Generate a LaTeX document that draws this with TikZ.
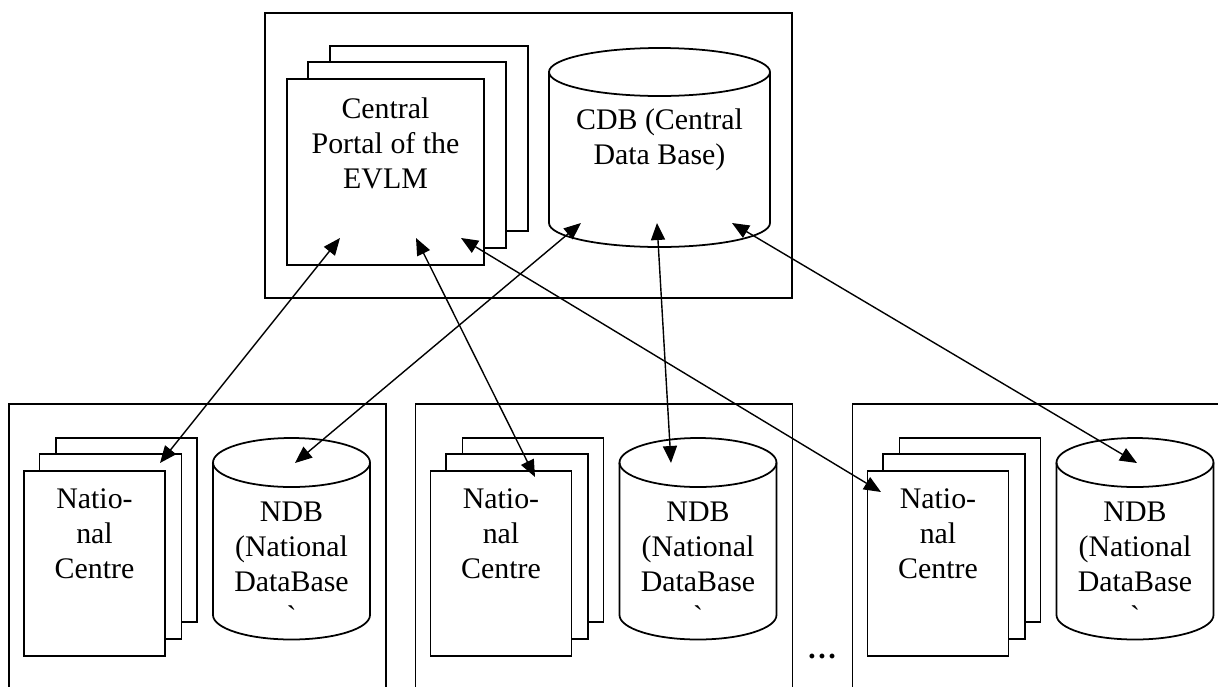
\documentclass[tikz,border=0pt]{standalone}
\usepackage{fontspec}
\setmainfont{Liberation Serif}
\newfontfamily\plainserif{Liberation Serif}
\usetikzlibrary{arrows.meta}

\begin{document}
\begin{tikzpicture}[scale=0.2,
  frame/.style={draw, line width=1pt},
  page/.style={draw, fill=white, line width=1pt, inner sep=0pt},
  dbline/.style={draw, fill=white, line width=1pt},
  txt/.style={align=center, anchor=base, inner sep=0pt, font=\fontsize{17}{19.9}\selectfont},
  link/.style={{Triangle[length=3.4mm,width=2.8mm]}-{Triangle[length=3.4mm,width=2.8mm]}, line width=0.8pt}]
\clip (0,0) rectangle (121.8,-68.6);

% central site
\draw [frame] (26.5,-1.3) rectangle (79.2,-29.8);
\node [page, minimum width=3.96cm, minimum height=3.7cm] (portalb) at (42.9,-13.85) {};
\node [page, minimum width=3.96cm, minimum height=3.72cm] (portalm) at (40.7,-15.5) {};
\node [page, minimum width=3.94cm, minimum height=3.72cm] (portal) at (38.55,-17.2) {};
\node [txt] (portaltxt) at (38.55,-18.8) {Central\\Portal of the\\EVLM};
\path [dbline] (54.9,-7.2) -- (54.9,-22.3) arc [start angle=180, end angle=360, x radius=11.05, y radius=2.4]
  -- (77.0,-7.2) arc [start angle=0, end angle=180, x radius=11.05, y radius=2.4] -- cycle;
\draw [line width=1pt] (54.9,-7.2) arc [start angle=180, end angle=360, x radius=11.05, y radius=2.4];
\node [txt] (cdbtxt) at (65.95,-16.4) {CDB (Central\\Data Base)};

% national sites
\foreach \n/\dx in {A/0,B/40.65,C/84.35} {
  \draw [frame] ({0.9+\dx},-72) rectangle ({38.6+\dx},-40.4);
  \node [page, minimum width=2.82cm, minimum height=3.68cm] (back\n) at ({12.65+\dx},-53.0) {};
  \node [page, minimum width=2.84cm, minimum height=3.7cm] (mid\n) at ({11.05+\dx},-54.65) {};
  \node [page, minimum width=2.82cm, minimum height=3.7cm] (nat\n) at ({9.45+\dx},-56.35) {};
  \node [txt] (nat\n txt) at ({9.45+\dx},-57.8) {Natio-\\nal\\Centre};
  \path [dbline] ({21.3+\dx},-46.25) -- ({21.3+\dx},-61.5) arc [start angle=180, end angle=360, x radius=7.85, y radius=2.45]
    -- ({37.0+\dx},-46.25) arc [start angle=0, end angle=180, x radius=7.85, y radius=2.45] -- cycle;
  \draw [line width=1pt] ({21.3+\dx},-46.25) arc [start angle=180, end angle=360, x radius=7.85, y radius=2.45];
  \node [txt] (ndb\n txt) at ({29.15+\dx},-62.6) {NDB\\(National\\DataBase\\{\plainserif`}};
}
\node [txt] (more) at (82.2,-65.8) {\textbf{…}};

% link end points
\coordinate (pA) at (34.0,-23.8);
\coordinate (pB) at (41.6,-23.8);
\coordinate (pC) at (46.1,-23.8);
\coordinate (cA) at (58.1,-22.3);
\coordinate (cB) at (65.7,-22.3);
\coordinate (cC) at (73.2,-22.3);
\coordinate (nA) at (16.0,-46.3);
\coordinate (nB) at (53.5,-47.7);
\coordinate (nC) at (88.1,-49.2);
\coordinate (dA) at (29.5,-46.3);
\coordinate (dB) at (67.1,-46.3);
\coordinate (dC) at (113.7,-46.3);

\draw [link] (nA) -- (pA);
\draw [link] (nB) -- (pB);
\draw [link] (nC) -- (pC);
\draw [link] (dA) -- (cA);
\draw [link] (dB) -- (cB);
\draw [link] (dC) -- (cC);
\end{tikzpicture}
\end{document}
